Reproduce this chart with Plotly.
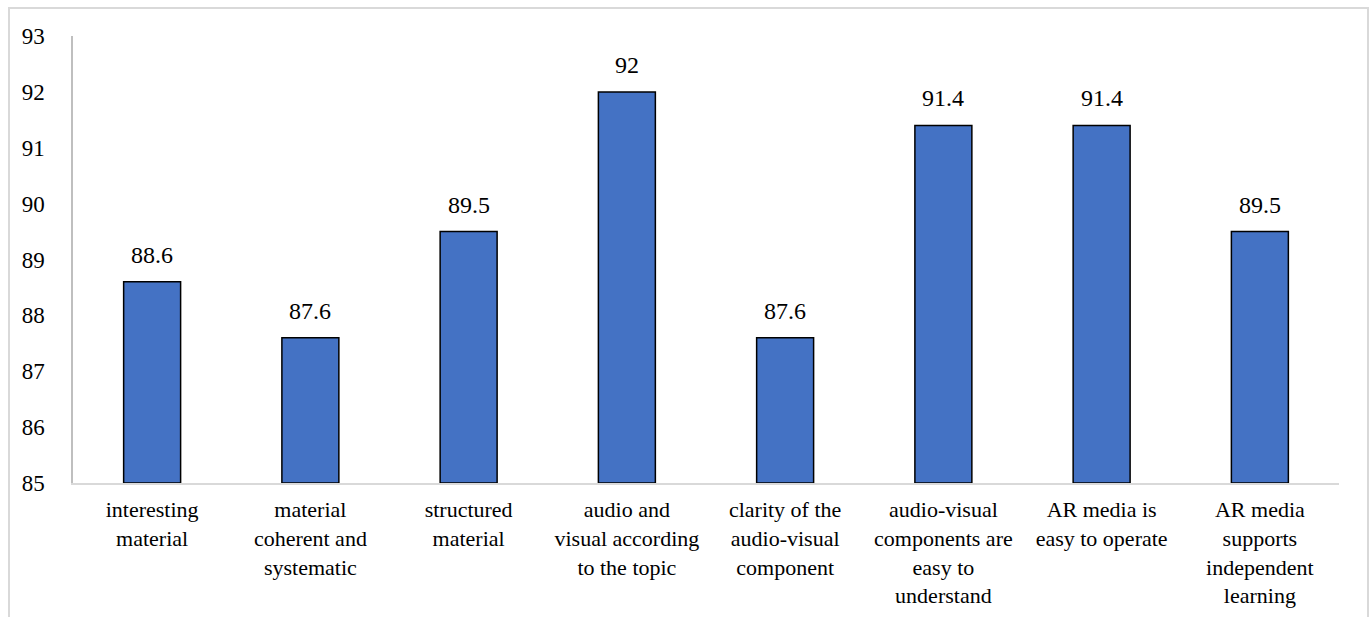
import plotly.graph_objects as go

# Category labels (line breaks as wrapped in the axis)
categories = [
    "interesting<br>material",
    "material<br>coherent and<br>systematic",
    "structured<br>material",
    "audio and<br>visual according<br>to the topic",
    "clarity of the<br>audio-visual<br>component",
    "audio-visual<br>components are<br>easy to<br>understand",
    "AR media is<br>easy to operate",
    "AR media<br>supports<br>independent<br>learning",
]
scores = [88.6, 87.6, 89.5, 92, 87.6, 91.4, 91.4, 89.5]
y_ticks = [85, 86, 87, 88, 89, 90, 91, 92, 93]
BASE = 85

FONT = "Liberation Serif, Times New Roman, serif"

fig = go.Figure()
fig.add_trace(go.Bar(
    x=categories,
    y=[v - BASE for v in scores],
    base=BASE,
    marker=dict(color="#4472C4", line=dict(color="black", width=1.5)),
    width=0.36,
    hoverinfo="skip",
))

# Value labels above each bar
for c, v in zip(categories, scores):
    fig.add_annotation(
        x=c, y=v, text=f"{v:g}", showarrow=False,
        yanchor="bottom", yshift=12,
        font=dict(family=FONT, size=24, color="black"),
    )

# Light outer frame around the chart
L, R, T, B = 73, 1339, 36, 483
pw, ph = R - L, B - T
fig.add_shape(
    type="rect", xref="paper", yref="paper",
    x0=(9 - L) / pw, x1=(1368 - L) / pw,
    y0=(B - 640) / ph, y1=(B - 8) / ph,
    line=dict(color="#d9d9d9", width=2), layer="below",
)

fig.update_layout(
    width=1371, height=617,
    margin=dict(l=L, r=1371 - R, t=T, b=617 - B),
    paper_bgcolor="white", plot_bgcolor="white",
    showlegend=False,
    font=dict(family=FONT, size=22, color="black"),
    xaxis=dict(
        showline=True, linecolor="#d9d9d9", linewidth=2,
        showgrid=False, ticks="", tickfont=dict(size=22),
        ticklabelstandoff=6, automargin=False,
    ),
    yaxis=dict(
        range=[85, 93], tickvals=y_ticks,
        showline=True, linecolor="#bfbfbf", linewidth=1.5,
        showgrid=False, zeroline=False, ticks="",
        tickfont=dict(size=23), ticklabelstandoff=22,
        automargin=False,
    ),
)

fig.write_html("out.html")
